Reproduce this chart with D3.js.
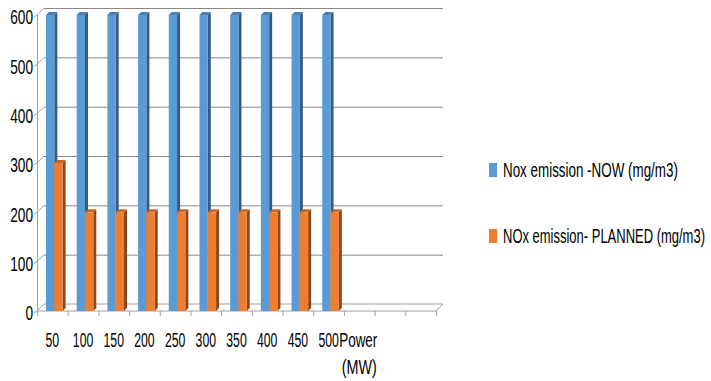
<!DOCTYPE html>
<html>
<head>
<meta charset="utf-8">
<script src="https://cdn.jsdelivr.net/npm/d3@7/dist/d3.min.js"></script>
<style>
  html, body { margin: 0; padding: 0; background: #fff; }
  svg { display: block; }
  text { font-family: "Liberation Sans Narrow", "Liberation Sans", Arial, sans-serif; fill: #000; }
</style>
</head>
<body>
<svg id="chart" width="711" height="381"></svg>
<script>
// Categories along the floor (the last two slots are empty)
const categories = ["50", "100", "150", "200", "250", "300", "350", "400", "450", "500", "Power (MW)", "", ""];
// NOx emission now and planned, mg/m3
const nowValues     = [600, 600, 600, 600, 600, 600, 600, 600, 600, 600];
const plannedValues = [300, 200, 200, 200, 200, 200, 200, 200, 200, 200];
const yTicks = [0, 100, 200, 300, 400, 500, 600];
const seriesNames = ["Nox emission -NOW (mg/m3)", "NOx emission- PLANNED (mg/m3)"];

const colors = {
  now:     { front: "#5b9bd5", side: "#2f5b85", top: "#4a7fb3" },
  planned: { front: "#ed7d31", side: "#8f4516", top: "#c9682a" }
};

const svg = d3.select("#chart");
const FONT = 20;

// Plot frame: front floor edge and wall depth offset
const left = 37, right = 436, base = 311, topY = 15;
const depth = { dx: 7, dy: -7 };
const barDepth = { dx: 3, dy: -3 };

const x = d3.scaleBand().domain(d3.range(categories.length)).range([left, right]).paddingInner(0).paddingOuter(0);
const y = d3.scaleLinear().domain([0, 600]).range([base, topY]);

// Condensed text: draw at natural width, then squeeze horizontally to the given width
function condensedText(parent, str, px, py, anchor, width, baseline) {
  const g = parent.append("g");
  const t = g.append("text")
    .attr("x", 0).attr("y", 0)
    .attr("text-anchor", anchor)
    .attr("font-size", FONT)
    .text(str);
  if (baseline) t.attr("dominant-baseline", baseline);
  const natural = t.node().getComputedTextLength() || width;
  g.attr("transform", `translate(${px},${py}) scale(${width / natural},1)`);
  return g;
}

const grid = svg.append("g");

// Floor parallelogram
grid.append("path")
  .attr("d", `M${left},${base} L${right},${base} L${right + depth.dx},${base + depth.dy} L${left + depth.dx},${base + depth.dy} Z`)
  .attr("fill", "none").attr("stroke", "#a0a0a0").attr("stroke-width", 1);

// Back-wall gridlines and side-wall diagonals
yTicks.forEach(v => {
  const yf = y(v), yb = y(v) + depth.dy;
  if (v > 0) {
    grid.append("line")
      .attr("x1", left + depth.dx).attr("x2", right + depth.dx)
      .attr("y1", yb + 0.5).attr("y2", yb + 0.5)
      .attr("stroke", "#878787").attr("stroke-width", 1);
  }
  grid.append("line")
    .attr("x1", left).attr("y1", yf)
    .attr("x2", left + depth.dx).attr("y2", yb)
    .attr("stroke", "#a0a0a0").attr("stroke-width", 1);
  // outward tick on the front axis
  grid.append("line")
    .attr("x1", left - 3).attr("y1", yf + 2)
    .attr("x2", left).attr("y2", yf)
    .attr("stroke", "#a0a0a0").attr("stroke-width", 1);
});

// Front vertical axis line
grid.append("line")
  .attr("x1", left + 0.5).attr("x2", left + 0.5)
  .attr("y1", y(600)).attr("y2", base + 5)
  .attr("stroke", "#a0a0a0").attr("stroke-width", 1);

// Category tick marks under the floor
d3.range(categories.length + 1).forEach(i => {
  const tx = i < categories.length ? x(i) : right;
  grid.append("line")
    .attr("x1", tx + 0.5).attr("x2", tx + 0.5)
    .attr("y1", base).attr("y2", base + 5)
    .attr("stroke", "#a0a0a0").attr("stroke-width", 1);
});

// Y tick labels
const yl = svg.append("g");
yTicks.forEach(v => {
  condensedText(yl, String(v), 33, y(v) + 4, "end", String(v).length * 7.6, "middle");
});

// 3D bars
const bw = x.bandwidth();
const barW = 8.3;
const off0 = 9;
function drawBar(g, x0, v, c) {
  const yt = y(v), yb = base;
  const x1 = x0 + barW;
  // side face
  g.append("path")
    .attr("d", `M${x1},${yt} L${x1 + barDepth.dx},${yt + barDepth.dy} L${x1 + barDepth.dx},${yb + barDepth.dy} L${x1},${yb} Z`)
    .attr("fill", c.side);
  // top face
  g.append("path")
    .attr("d", `M${x0},${yt} L${x0 + barDepth.dx},${yt + barDepth.dy} L${x1 + barDepth.dx},${yt + barDepth.dy} L${x1},${yt} Z`)
    .attr("fill", c.top);
  // front face
  g.append("rect")
    .attr("x", x0).attr("y", yt).attr("width", barW).attr("height", yb - yt)
    .attr("fill", c.front);
}

const bars = svg.append("g");
nowValues.forEach((v, i) => {
  const g = bars.append("g");
  const x0 = x(i) + off0;
  drawBar(g, x0, v, colors.now);
  drawBar(g, x0 + barW, plannedValues[i], colors.planned);
});

// Category labels
const xl = svg.append("g");
categories.forEach((c, i) => {
  if (!c) return;
  const cx = x(i) + bw / 2;
  if (c === "Power (MW)") {
    condensedText(xl, "Power", cx - 1, 347, "middle", 38);
    condensedText(xl, "(MW)", cx, 374, "middle", 35);
  } else {
    condensedText(xl, c, cx, 347, "middle", c.length * 6.8);
  }
});

// Legend
const legend = svg.append("g");
const legendRows = [
  { name: seriesNames[0], color: colors.now.front, y: 177, w: 175 },
  { name: seriesNames[1], color: colors.planned.front, y: 243, w: 202 }
];
legendRows.forEach(r => {
  legend.append("rect").attr("x", 489).attr("y", r.y - 14).attr("width", 8).attr("height", 14).attr("fill", r.color);
  condensedText(legend, r.name, 503, r.y, "start", r.w);
});
</script>
</body>
</html>
